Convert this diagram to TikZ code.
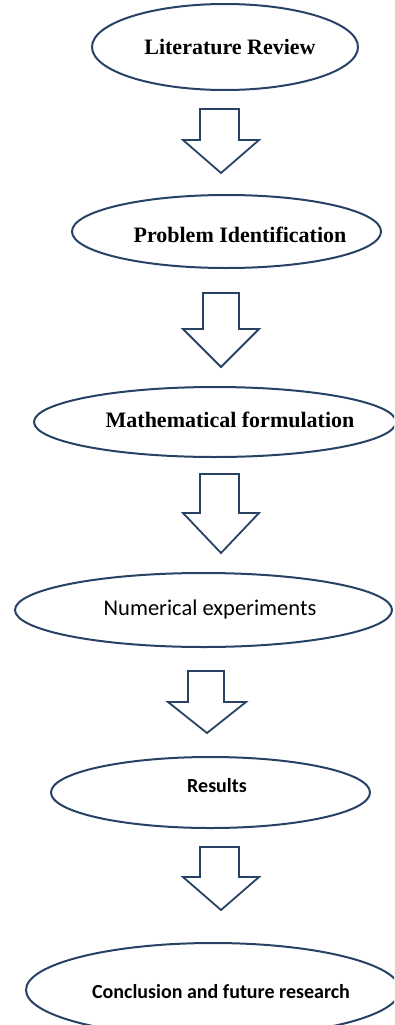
\documentclass[tikz,border=0pt]{standalone}
\usepackage{fontspec}
\setmainfont{Liberation Serif}
\newfontfamily\calfont{Carlito}
\usetikzlibrary{shapes.geometric}
\definecolor{edgeblue}{RGB}{40,66,102}
\tikzset{
  stage/.style={draw=edgeblue, line width=2pt, ellipse, inner sep=0pt},
  blockarrow/.style={draw=edgeblue, line width=1.8pt, fill=white, line join=miter},
  sertext/.style={font=\fontsize{22}{26}\selectfont\bfseries, text=black},
  santext/.style={font=\calfont\fontsize{22.5}{26}\selectfont, text=black},
  sanbold/.style={font=\calfont\fontsize{20}{24}\selectfont\bfseries, text=black}
}
\begin{document}
\begin{tikzpicture}[x=1pt,y=-1pt]
\useasboundingbox (0,0) rectangle (394,1025);
\clip (0,0) rectangle (394,1025);
% ellipses
\node[stage, minimum width=266pt, minimum height=86pt] (e1) at (225,47) {};
\node[stage, minimum width=309pt, minimum height=73pt] (e2) at (226.5,231.5) {};
\node[stage, minimum width=362pt, minimum height=70pt] (e3) at (215,422) {};
\node[stage, minimum width=377pt, minimum height=74pt] (e4) at (203.5,610) {};
\node[stage, minimum width=319pt, minimum height=71pt] (e5) at (210.5,792.5) {};
\node[stage, minimum width=374pt, minimum height=94pt] (e6) at (213,990) {};
% labels
\node[sertext] (t1) at (230,47) {Literature Review};
\node[sertext] (t2) at (240,235) {Problem Identification};
\node[sertext] (t3) at (230,420) {Mathematical formulation};
\node[santext] (t4) at (210,609) {Numerical experiments};
\node[sanbold] (t5) at (217,786) {Results};
\node[sanbold] (t6) at (221,992) {Conclusion and future research};
% block arrows
\draw[blockarrow] (200,109) -- (239,109) -- (239,140) -- (259,140) -- (221,173) -- (183,140) -- (200,140) -- cycle;
\draw[blockarrow] (203,293) -- (239,293) -- (239,329) -- (259,329) -- (221,367) -- (183,329) -- (203,329) -- cycle;
\draw[blockarrow] (200,474) -- (239,474) -- (239,513) -- (259,513) -- (221,553) -- (183,513) -- (200,513) -- cycle;
\draw[blockarrow] (188,671) -- (224,671) -- (224,702) -- (246,702) -- (207,733) -- (168,702) -- (188,702) -- cycle;
\draw[blockarrow] (200,847) -- (239,847) -- (239,877) -- (259,877) -- (221,910) -- (183,877) -- (200,877) -- cycle;
\end{tikzpicture}
\end{document}
